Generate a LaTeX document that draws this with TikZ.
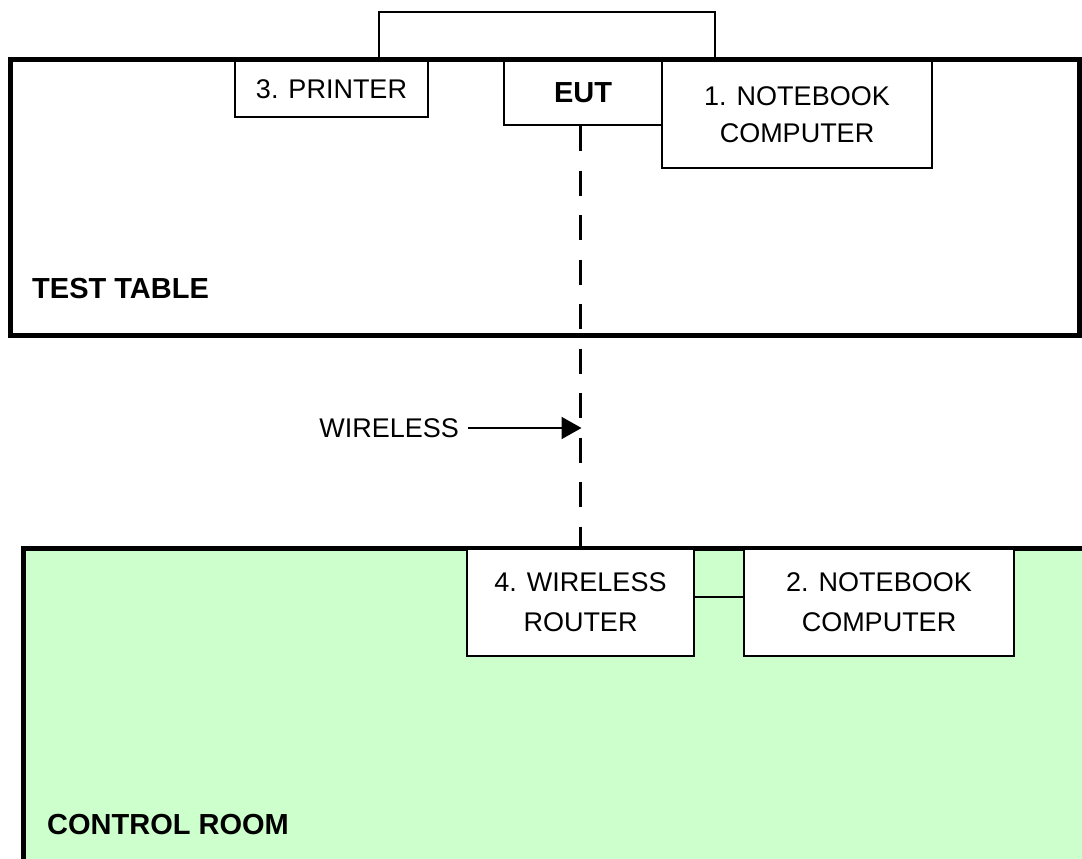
\documentclass[tikz,border=0pt]{standalone}
\usepackage{fontspec}
\setmainfont{Liberation Sans}
\usetikzlibrary{arrows.meta,calc}
\definecolor{roomgreen}{HTML}{CCFFCC}
\tikzset{
  area/.style={line width=5pt},
  devbox/.style={draw, line width=2pt, fill=white, inner sep=0pt, anchor=north west,
    align=center, font=\fontsize{27}{37}\selectfont},
  wire/.style={line width=2pt},
  radiolink/.style={line width=2.5pt, dash pattern=on 25pt off 19.5pt},
  arrowline/.style={line width=2pt, -{Triangle[length=20pt,width=22pt]}},
  arealabel/.style={inner sep=0pt, anchor=west, font=\fontsize{29}{34}\selectfont\bfseries},
  plainlabel/.style={inner sep=0pt, font=\fontsize{27}{32}\selectfont}
}
\begin{document}
\begin{tikzpicture}[x=1pt,y=-1pt]
\useasboundingbox (0,0) rectangle (1082,859);
\clip (0,0) rectangle (1082,859);

% control room area (runs off the right and bottom edges)
\fill[roomgreen] (23.5,548.5) rectangle (1100,880);
\draw[area] (23.5,880) -- (23.5,548.5) -- (1100,548.5);

% test table
\draw[area, fill=white] (10.5,59.5) rectangle (1079.5,335);

% devices on the table
\node[devbox, minimum width=193pt, minimum height=56pt] (printer) at (234,60) {3. PRINTER};
\node[devbox, minimum width=158pt, minimum height=64pt, font=\fontsize{29}{34}\selectfont\bfseries] (eut) at (503,60) {EUT};
\node[devbox, minimum width=270pt, minimum height=107pt] (nb1) at (661,60) {1. NOTEBOOK\\COMPUTER};

% devices in the control room
\node[devbox, minimum width=227pt, minimum height=107pt, font=\fontsize{27}{40}\selectfont] (router) at (466,548) {4. WIRELESS\\ROUTER};
\node[devbox, minimum width=270pt, minimum height=107pt, font=\fontsize{27}{40}\selectfont] (nb2) at (743,548) {2. NOTEBOOK\\COMPUTER};

% cable from printer to notebook over the table edge
\draw[wire] ($(printer.north west)+(145,0)$) -- ++(0,-48) -| ($(nb1.north west)+(54,0)$);

% LAN cable router -- notebook
\draw[wire] ($(router.east)+(0,-5.5)$) -- ($(nb2.west)+(0,-5.5)$);

% wireless link
\draw[radiolink] (eut.south -| router.north) -- (router.north);
\coordinate (wtip) at ($(router.north)+(1,-119.5)$);

% area labels
\node[arealabel] (tt) at (32,288.5) {TEST TABLE};
\node[arealabel] (cr) at (47,824.5) {CONTROL ROOM};

% wireless annotation
\node[plainlabel, anchor=east] (wl) at (459,428) {WIRELESS};
\draw[arrowline, shorten <=9pt] (wl.east) -- (wl.east -| wtip);
\end{tikzpicture}
\end{document}
